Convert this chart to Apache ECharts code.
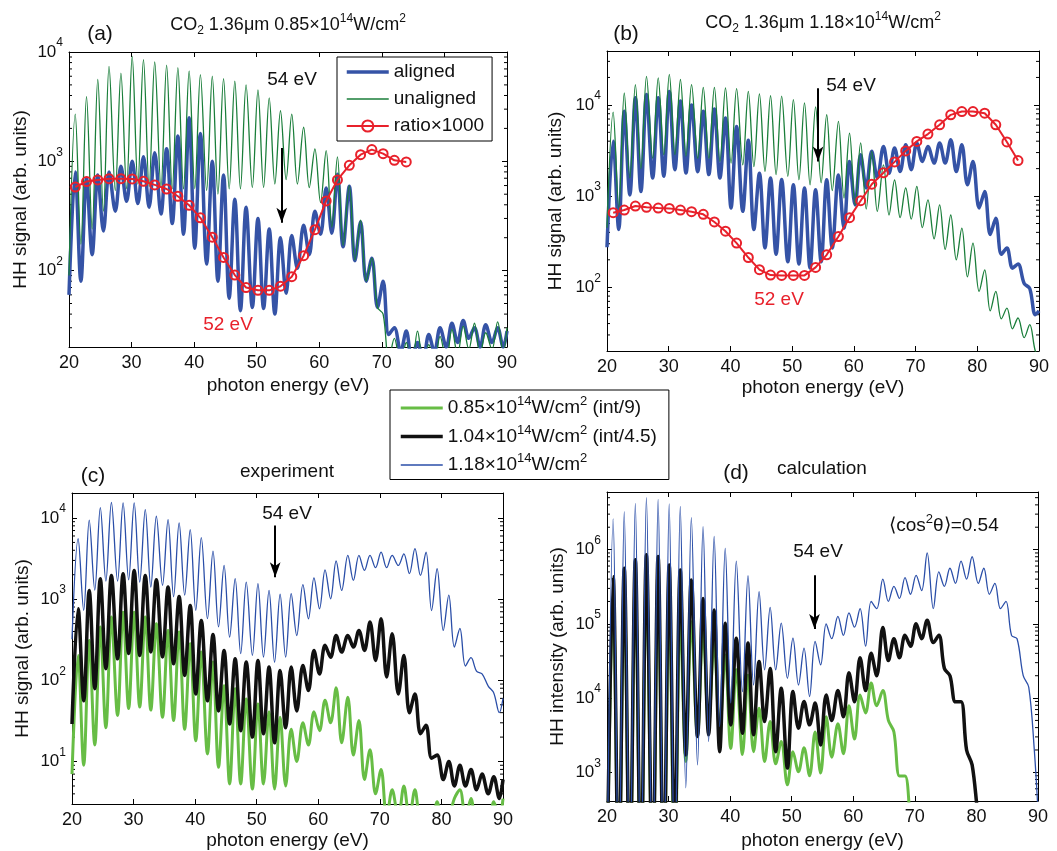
<!DOCTYPE html>
<html><head><meta charset="utf-8">
<script src="https://cdn.jsdelivr.net/npm/echarts@6/dist/echarts.min.js"></script>
<style>html,body{margin:0;padding:0;background:#fff}#c{width:1057px;height:851px}</style>
</head><body><div id="c"></div>
<script>
// ---------------- data ----------------
const energy = [
 20.0,21.0,21.9,22.8,23.7,24.6,25.5,26.4,27.4,28.3,
 29.2,30.1,31.0,31.9,32.8,33.7,34.7,35.6,36.5,37.4,
 38.3,39.2,40.1,41.0,42.0,42.9,43.8,44.7,45.6,46.5,
 47.4,48.3,49.3,50.2,51.1,52.0,52.9,53.8,54.7,55.6,
 56.5,57.5,58.4,59.3,60.2,61.1,62.0,62.9,63.8,64.8,
 65.7,66.6,67.5,68.4,69.3,70.2,71.1,72.0,73.0,73.9,
 74.8,75.7,76.6,77.5,78.4,79.3,80.3,81.2,82.1,83.0,
 83.9,84.8,85.7,86.6,87.6,88.5,89.4,90.0];
const harmonics = [21.0,22.8,24.6,26.4,28.3,30.1,31.9,33.7,35.6,37.4,
 39.2,41.0,42.9,44.7,46.5,48.3,50.2,52.0,53.8,55.6,
 57.5,59.3,61.1,62.9,64.8,66.6,68.4,70.2,72.0,73.9,
 75.7,77.5,79.3,81.2,83.0,84.8,86.6];

// (a) 0.85e14 W/cm2
const alignedA = [
 60,800,80,700,140,750,230,800,350,900,
 430,1000,410,1100,380,1200,330,1300,270,1700,
 215,2500,160,1800,115,1000,80,750,56,450,
 43,380,46,300,45,240,40,200,62,210,
 105,260,140,350,215,570,220,760,165,590,
 123,280,80,130,46,80,26,30,18,28,
 15,22,15,26,18,30,20,33,22,35,
 24,30,20,32,22,30,20,28];
const unalignedA = [
 90,2700,175,3900,240,5600,350,7400,540,6400,
 560,9100,620,8500,590,8100,575,7600,560,7200,
 560,6700,560,6200,540,6000,500,5700,560,5400,
 560,5000,575,4500,575,3800,620,2900,680,2700,
 620,2050,575,1300,420,1250,250,1100,170,600,
 125,290,80,130,46,40,15,24,14,22,
 13,28,15,21,14,25,15,29,17,31,
 19,33,17,27,19,34,18,30];
const ratioA = [582,652,675,694,694,689,656,608,558,479,396,304,202,132,91,
 70,66,66,72,88,137,237,434,675,919,1150,1280,1175,1020,986];

// (b) 1.18e14 W/cm2
const alignedB = [
 275,4000,430,8500,1030,12000,1120,13000,1580,12000,
 1650,14000,1950,11000,1790,10000,1850,8500,1720,9000,
 1580,7200,740,5800,680,4100,430,1780,270,1580,
 230,1520,190,1330,180,1230,163,1170,190,1510,
 270,1700,445,2400,800,2840,1230,3100,1580,3500,
 1780,3370,1860,3660,1950,3830,2400,3500,2300,3830,
 2300,4150,1860,3660,1330,2400,740,1120,380,570,
 230,270,162,180,110,97,50,55];
const unalignedB = [
 450,8300,740,13500,1580,16700,2000,20600,2600,19800,
 2850,21600,2850,19000,2750,16700,2600,15600,2600,15600,
 2400,15400,2300,15100,2200,14100,2100,13200,1870,12600,
 1720,12500,1650,11400,1510,10500,1330,9500,1400,7800,
 1150,6600,950,4900,800,3830,720,3100,680,2200,
 620,1500,580,1230,560,1280,450,910,340,800,
 260,620,200,445,130,305,90,155,55,90,
 45,59,35,46,28,39,20,18];
const ratioB = [658,703,778,752,739,733,703,674,631,520,412,305,212,156,136,135,135,135,
 165,227,360,580,890,1350,1800,2370,3130,3980,4790,6050,7780,8460,8460,8110,6050,3920,2450];

// (c) experiment
const expLow = [
 7,203,9,309,16,453,26,602,37,692,
 45,692,47,602,43,498,35,412,32,393,
 25,282,18,223,12.4,168,8.5,86,5.3,79,
 5.3,59,4.6,51,5.3,41,4.6,35,5,25,
 10,30,16,41,24,57,30,81,17,62,
 12,32,6,14,4,8,2,4.5,2,5,
 2,4.5,2,2.5,1.5,3.2,1.5,2,3.5,4.5,
 2,3.5,1.5,2,1.5,3.2,2,3.5];
const expMid = [
 29,762,56,1280,79,1790,139,1960,184,2060,
 214,2260,203,1960,224,1740,194,1410,160,1080,
 115,837,68,547,56,368,42,234,29,184,
 24,168,20,176,22,146,17,132,26,146,
 42,152,75,234,120,270,193,357,223,357,
 257,412,234,522,176,574,110,375,68,203,
 40,68,22,28,11,12,6,10,5,9,
 5,8,4.5,7,4,6.5,3.5,6];
const expHigh = [
 320,5550,730,9400,1290,13400,1670,15500,1670,15300,
 1730,15300,1620,12700,1410,10500,1480,9540,1070,8680,
 1120,7180,730,5720,575,3910,455,2610,340,1790,
 213,1620,203,1550,194,1280,167,1150,193,1170,
 357,1510,574,1830,762,2300,1010,2950,1280,3460,
 1700,3460,2260,3460,2440,3800,2440,3460,2600,3620,
 2060,4200,1960,3800,725,2370,412,1120,257,435,
 150,190,130,120,85,70,40,60];

// (d) calculation
const calcLow = [
 30,2.2e5,30,2.8e5,30,3.2e5,30,3.5e5,30,3.2e5,
 30,2.2e5,30,1.3e5,1400,1.07e5,3200,8.3e4,4400,5.8e4,
 3500,3.8e4,2100,2.4e4,1740,2.05e4,1900,7300,1400,4850,
 1300,2600,680,1900,1020,2140,900,3500,980,5600,
 1600,4500,1780,7900,2800,1.1e4,6300,1.6e4,7900,1.26e4,
 5000,3500,890,890,200,50,50,50,50,50,
 50,50,50,50,50,50,50,50,50,50,
 50,50,50,50,50,50,50,50];
const calcMid = [
 30,4.3e5,30,5.6e5,30,7.3e5,30,8.5e5,30,8.05e5,
 30,6.2e5,100,5.3e5,1720,3.9e5,3040,2.2e5,3200,1.54e5,
 1900,1.02e5,4350,6.4e4,3370,5.5e4,3200,3.1e4,4840,2.5e4,
 1900,1.36e4,1140,1.23e4,3930,9000,4360,8550,2340,1.1e4,
 5000,1.26e4,5600,2.2e4,8900,3.5e4,1.26e4,4e4,2e4,8.9e4,
 3.2e4,6.3e4,3.5e4,7e4,5e4,1e5,6.3e4,1.12e5,5.6e4,7e4,
 2.5e4,2e4,8900,8900,2000,1260,250,100,50,50,
 50,50,50,50,50,50,50,50];
const calcHigh = [
 30,2.59e6,30,3.24e6,30,4.2e6,30,5.0e6,30,4.75e6,
 30,4.12e6,30,3.8e6,620,2.7e6,1260,2.04e6,2600,1.5e6,
 4140,1.04e6,8590,7.0e5,12200,4.47e5,15000,2.72e5,24000,1.66e5,
 24000,1.02e5,18500,6.4e4,15000,4.7e4,10500,5.8e4,2.8e4,1.0e5,
 6.3e4,1.26e5,7e4,1.4e5,9e4,1.6e5,5e4,2e5,1.6e5,4e5,
 2e5,3.2e5,2.2e5,4.2e5,2.5e5,4.5e5,2.8e5,9e5,1.6e5,5e5,
 3.2e5,5.6e5,3.5e5,7e5,4e5,8e5,3.5e5,5.6e5,2.5e5,3.5e5,
 1.6e5,2e5,7e4,6.3e4,2e4,1.4e4,2000,300];

// arrows "54 eV": [energy, start value, end value]
const arrowA = [54.0, 1320, 274];
const arrowB = [54.2, 15200, 2400];
const arrowC = [53.0, 8100, 1860];
const arrowD = [53.7, 4.5e5, 8.5e4];

const xTicks = {min: 20, max: 90, step: 10};
const yRanges = [[20, 10000], [20, 39000], [3, 20300], [411, 5.96e6]];
const minorMultipliers = [2, 3, 4, 5, 6, 7, 8, 9];

// ---------------- chart ----------------
const FONT = '"Liberation Sans", Arial, Helvetica, sans-serif';
const C = {
  blueA: '#3553a6', greenA: '#1a7e3a', red: '#e8212b',
  green: '#67bd45', black: '#111111', blue: '#2a4ea8'
};
const grids = [
  {left: 69, top: 52, width: 438, height: 295},
  {left: 607, top: 51, width: 432, height: 300},
  {left: 72, top: 493, width: 431, height: 311},
  {left: 607, top: 492, width: 431, height: 309}
];
const yNames = ['HH signal (arb. units)', 'HH signal (arb. units)', 'HH signal (arb. units)', 'HH intensity (arb. units)'];
const yNameGaps = [39, 42, 40, 40];
const xNameGaps = [29, 27, 27, 30];

function logLabel(v) {
  const l = Math.log10(v), r = Math.round(l);
  if (Math.abs(l - r) > 1e-3) return '';
  return '{b|10}{s|' + r + '}';
}
const axLine = {show: true, onZero: false, lineStyle: {color: '#000', width: 1}};
const axTick = {show: true, inside: true, length: 5, lineStyle: {color: '#000', width: 1}};

const xAxis = [], yAxis = [];
grids.forEach((g, i) => {
  xAxis.push({
    type: 'value', gridIndex: i, position: 'bottom', min: xTicks.min, max: xTicks.max, interval: xTicks.step,
    axisLine: axLine, axisTick: axTick, splitLine: {show: false},
    axisLabel: {fontSize: 18, color: '#111', margin: 7, fontFamily: FONT},
    name: 'photon energy (eV)', nameLocation: 'middle', nameGap: xNameGaps[i],
    nameTextStyle: {fontSize: 19, color: '#111', fontFamily: FONT}
  });
  xAxis.push({
    type: 'value', gridIndex: i, position: 'top', min: xTicks.min, max: xTicks.max, interval: xTicks.step,
    axisLine: axLine, axisTick: axTick, splitLine: {show: false}, axisLabel: {show: false}
  });
  yAxis.push({
    type: 'log', logBase: 10, gridIndex: i, position: 'left', min: yRanges[i][0], max: yRanges[i][1],
    axisLine: axLine, axisTick: axTick, splitLine: {show: false},
    axisLabel: {
      formatter: logLabel, margin: 6, showMinLabel: true, showMaxLabel: true,
      rich: {
        b: {fontSize: 17, fontFamily: FONT, color: '#111', lineHeight: 30},
        s: {fontSize: 12, fontFamily: FONT, color: '#111', lineHeight: 10, verticalAlign: 'top'}
      }
    },
    name: yNames[i], nameLocation: 'middle', nameGap: yNameGaps[i], nameRotate: 90,
    nameTextStyle: {fontSize: 19, color: '#111', fontFamily: FONT}
  });
  yAxis.push({
    type: 'log', logBase: 10, gridIndex: i, position: 'right', min: yRanges[i][0], max: yRanges[i][1],
    axisLine: axLine, axisTick: axTick, splitLine: {show: false}, axisLabel: {show: false}
  });
});

const pairs = (xs, ys) => ys.map((y, k) => [xs[k], y]);

function line(name, panel, ys, color, width, extra) {
  return Object.assign({
    type: 'line', name: name, xAxisIndex: 2 * panel, yAxisIndex: 2 * panel,
    data: pairs(energy, ys), showSymbol: false, symbol: 'none', smooth: 0.35, clip: true,
    lineStyle: {color: color, width: width}, itemStyle: {color: color},
    silent: true, animation: false, emphasis: {disabled: true}
  }, extra || {});
}
function arrow(a) {
  return {
    silent: true, animation: false, symbol: ['none', 'arrow'], symbolSize: [8, 15],
    lineStyle: {color: '#000', width: 2, type: 'solid'}, label: {show: false},
    emphasis: {disabled: true},
    data: [[{coord: [a[0], a[1]]}, {coord: [a[0], a[2]]}]]
  };
}
function ratio(name, panel, xs, ys) {
  return {
    type: 'line', name: name, xAxisIndex: 2 * panel, yAxisIndex: 2 * panel,
    data: pairs(xs, ys), showSymbol: true, symbol: 'circle', symbolSize: 9, clip: true,
    lineStyle: {color: C.red, width: 2},
    itemStyle: {color: 'rgba(255,255,255,0)', borderColor: C.red, borderWidth: 2},
    silent: true, animation: false, emphasis: {disabled: true}, z: 5
  };
}
// minor log ticks on left and right frame edges (axis decoration)
function minorTickSeries(panel) {
  const [lo, hi] = yRanges[panel];
  const vals = [];
  for (let k = Math.floor(Math.log10(lo)); k <= Math.ceil(Math.log10(hi)); k++) {
    minorMultipliers.forEach(m => { const v = m * Math.pow(10, k); if (v > lo && v < hi) vals.push([xTicks.min, v]); });
  }
  return {
    type: 'custom', name: 'minorTicks' + panel, xAxisIndex: 2 * panel, yAxisIndex: 2 * panel,
    silent: true, animation: false, z: 1, data: vals, clip: false,
    renderItem: (params, api) => {
      const p = api.coord([xTicks.min, api.value(1)]);
      const q = api.coord([xTicks.max, api.value(1)]);
      return {type: 'group', children: [
        {type: 'line', shape: {x1: p[0], y1: p[1], x2: p[0] + 3, y2: p[1]}, style: {stroke: '#000', lineWidth: 1}},
        {type: 'line', shape: {x1: q[0] - 3, y1: q[1], x2: q[0], y2: q[1]}, style: {stroke: '#000', lineWidth: 1}}
      ]};
    }
  };
}

const series = [
  line('aligned', 0, alignedA, C.blueA, 3.5, {markLine: arrow(arrowA)}),
  line('unaligned', 0, unalignedA, C.greenA, 1.3),
  ratio('ratio×1000', 0, harmonics.slice(0, ratioA.length), ratioA),
  line('aligned', 1, alignedB, C.blueA, 3.5, {markLine: arrow(arrowB)}),
  line('unaligned', 1, unalignedB, C.greenA, 1.3),
  ratio('ratio×1000', 1, harmonics.slice(0, ratioB.length), ratioB),
  line('I085', 2, expLow, C.green, 3),
  line('I104', 2, expMid, C.black, 3.5),
  line('I118', 2, expHigh, C.blue, 1.3, {markLine: arrow(arrowC)}),
  line('I085', 3, calcLow, C.green, 3),
  line('I104', 3, calcMid, C.black, 3.5),
  line('I118', 3, calcHigh, C.blue, 1.3, {markLine: arrow(arrowD)}),
  minorTickSeries(0), minorTickSeries(1), minorTickSeries(2), minorTickSeries(3)
];

const legendNames = {
  I085: '{n|0.85×10}{s|14}{n|W/cm}{s|2}{n| (int/9)}',
  I104: '{n|1.04×10}{s|14}{n|W/cm}{s|2}{n| (int/4.5)}',
  I118: '{n|1.18×10}{s|14}{n|W/cm}{s|2}'
};
const supRich = {
  n: {fontSize: 19, fontFamily: FONT, color: '#111', lineHeight: 26},
  s: {fontSize: 13, fontFamily: FONT, color: '#111', lineHeight: 8, verticalAlign: 'top'}
};
const noSym = {opacity: 0, color: 'rgba(0,0,0,0)', borderWidth: 0};

const legend = [
  {
    data: [
      {name: 'aligned', itemStyle: noSym, lineStyle: {width: 3.5}},
      {name: 'unaligned', itemStyle: noSym, lineStyle: {width: 1.3}},
      {name: 'ratio×1000', lineStyle: {width: 2}}
    ],
    orient: 'vertical', left: 337, top: 57,
    padding: [5, 8, 5, 8], itemGap: 7, itemWidth: 42, itemHeight: 14,
    borderColor: '#000', borderWidth: 1, backgroundColor: '#fff', selectedMode: false,
    textStyle: {fontSize: 19, color: '#111', fontFamily: FONT, lineHeight: 20}
  },
  {
    data: [
      {name: 'I085', itemStyle: noSym, lineStyle: {width: 3}},
      {name: 'I104', itemStyle: noSym, lineStyle: {width: 3.5}},
      {name: 'I118', itemStyle: noSym, lineStyle: {width: 1.3}}
    ],
    orient: 'vertical', left: 390, top: 390,
    padding: [5, 12, 5, 9], itemGap: 6, itemWidth: 42, itemHeight: 14,
    borderColor: '#000', borderWidth: 1, backgroundColor: '#fff', selectedMode: false,
    formatter: n => legendNames[n],
    textStyle: {fontSize: 19, color: '#111', fontFamily: FONT, rich: supRich}
  }
];

function txt(x, y, text, size, color, rich) {
  const st = {text: text, x: x, y: y, fill: color || '#111', fontSize: size, fontFamily: FONT,
    align: 'center', verticalAlign: 'middle', textAlign: 'center', textVerticalAlign: 'middle'};
  if (rich) st.rich = rich;
  return {type: 'text', silent: true, z: 100, style: st};
}
const titleRich = {
  b: {fontSize: 18, fontFamily: FONT, color: '#111', lineHeight: 24},
  p: {fontSize: 12, fontFamily: FONT, color: '#111', lineHeight: 6, verticalAlign: 'top'},
  d: {fontSize: 12, fontFamily: FONT, color: '#111', lineHeight: 4, verticalAlign: 'bottom'}
};
const graphic = [
  txt(288, 25, '{b|CO}{d|2}{b| 1.36μm 0.85×10}{p|14}{b|W/cm}{p|2}', 18, '#111', titleRich),
  txt(823, 23, '{b|CO}{d|2}{b| 1.36μm 1.18×10}{p|14}{b|W/cm}{p|2}', 18, '#111', titleRich),
  txt(100, 34, '(a)', 21),
  txt(626, 34, '(b)', 21),
  txt(93, 476, '(c)', 21),
  txt(736, 473, '(d)', 21),
  txt(287, 472, 'experiment', 19),
  txt(822, 469, 'calculation', 19),
  txt(944, 526, '{n|\u27E8cos}{s|2}{n|θ\u27E9=0.54}', 19, '#111', supRich),
  txt(292, 80, '54 eV', 19),
  txt(851, 86, '54 eV', 19),
  txt(287, 514, '54 eV', 19),
  txt(818, 552, '54 eV', 19),
  txt(228, 325, '52 eV', 19, C.red),
  txt(779, 300, '52 eV', 19, C.red)
];

const chart = echarts.init(document.getElementById('c'), null, {renderer: 'canvas'});
chart.setOption({
  backgroundColor: '#fff', animation: false,
  grid: grids.map(g => Object.assign({outerBoundsMode: 'none', containLabel: false}, g)),
  xAxis: xAxis, yAxis: yAxis, series: series, legend: legend, graphic: graphic,
  tooltip: {show: false}
});
</script></body></html>
